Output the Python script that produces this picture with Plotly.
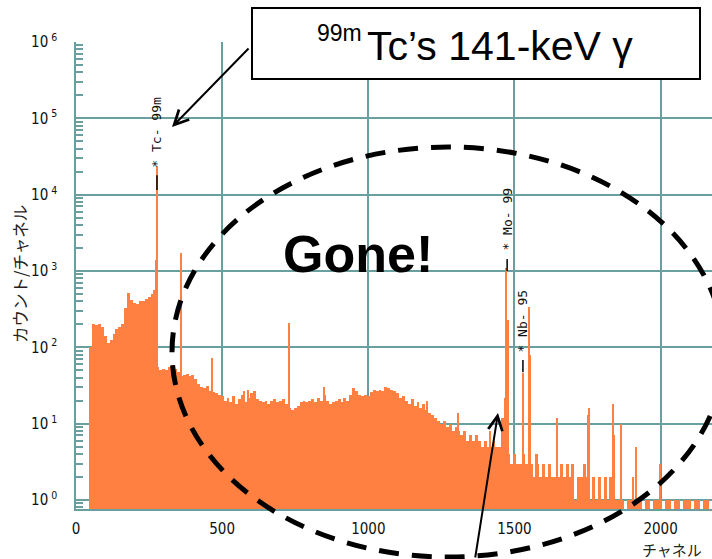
import math
import plotly.graph_objects as go

# ---------------- data ----------------
# continuum counts in 10-channel bins, first bin starts at channel 45
BIN_START = 45
BIN_WIDTH = 10
continuum_counts = [
    100, 205, 195, 200, 185, 140, 115, 125, 150, 175,
    185, 200, 330, 520, 420, 380, 375, 400, 410, 430,
    460, 500, 560, 55, 50, 52, 50, 55, 58, 52,
    48, 42, 44, 45, 42, 44, 38, 33, 30, 29,
    31, 27, 26, 25, 24, 23, 20, 22, 19, 23,
    18, 21, 24, 19, 22, 25, 27, 21, 20, 19,
    20, 18, 20, 21, 19, 20, 21, 18, 16, 15,
    16, 17, 19, 20, 19, 20, 21, 19, 22, 20,
    24, 20, 18, 19, 20, 21, 19, 22, 20, 24,
    29, 27, 24, 23, 24, 23, 26, 28, 27, 28,
    27, 30, 29, 28, 27, 25, 22, 23, 20, 18,
    21, 17, 19, 16, 18, 15, 14, 13, 12, 11,
    10, 11, 9, 10, 8, 9, 8, 7, 8, 6,
    7, 6, 7, 6, 5, 6, 5, 5, 6, 5,
    5, 12, 20, 4, 3, 4, 3, 3, 4, 3,
    5, 3, 2, 3, 2, 3, 2, 3, 2, 2,
    2, 3, 2, 3, 2, 3, 1, 2, 2, 3,
    2, 1, 2, 1, 2, 1, 2, 1, 2, 1,
    1, 1, 1, 0, 1, 1, 1, 1, 1, 0,
    1, 1, 0, 1, 1, 1, 0, 1, 1, 0,
    1, 1, 0, 1, 1, 1, 0, 1, 1, 0,
    1, 1, 0, 1,
]
continuum_channels = [BIN_START + BIN_WIDTH * (i + 0.5) for i in range(len(continuum_counts))]

# narrow peaks / single-channel spikes
spike_channels = [274, 276, 358, 464, 575, 590, 729, 848, 1200, 1307, 1416,
                  1462, 1468, 1473, 1478, 1531, 1549, 1553, 1574, 1578,
                  1645, 1752, 1756, 1837, 1840, 1864, 1905, 1916, 1998]
spike_counts = [1400, 24000, 1730, 72, 27, 28, 210, 30, 20, 14, 8,
                12, 22, 1100, 230, 46, 340, 80, 4, 4,
                12, 13, 16, 18, 7, 10, 2, 5, 3]

# identified peaks
peak_names = ["* Tc- 99m", "* Mo- 99", "* Nb- 95"]
peak_channels = [277, 1475, 1529]
peak_marker_low = [11500, 1000, 47]
peak_marker_high = [18000, 1440, 68]

x_tick_vals = [0, 500, 1000, 1500, 2000]
y_tick_vals = [1, 10, 100, 1000, 10000, 100000, 1000000]
y_tick_text = ["10<sup> 0</sup>", "10<sup> 1</sup>", "10<sup> 2</sup>", "10<sup> 3</sup>",
               "10<sup> 4</sup>", "10<sup> 5</sup>", "10<sup> 6</sup>"]

# ---------------- layout helpers ----------------
W, H = 712, 559
L, R, T, B = 76, 0, 42, 50
PW, PH = W - L - R, H - T - B


def px(p):
    return (p - L) / PW


def py(p):
    return (H - B - p) / PH


ORANGE = "#FF8040"
TEAL = "#6A9FA0"
NARROW = "Liberation Sans Narrow, DejaVu Sans Condensed, Arial Narrow, sans-serif"

fig = go.Figure()
fig.add_trace(go.Bar(
    x=continuum_channels,
    y=[c if c > 0 else None for c in continuum_counts],
    width=BIN_WIDTH,
    marker=dict(color=ORANGE, line=dict(width=0)),
    hoverinfo="skip",
))
fig.add_trace(go.Bar(
    x=spike_channels,
    y=spike_counts,
    width=4,
    marker=dict(color=ORANGE, line=dict(width=0)),
    hoverinfo="skip",
))

fig.update_layout(
    width=W, height=H,
    margin=dict(l=L, r=R, t=T, b=B, pad=0),
    template="none",
    paper_bgcolor="white",
    plot_bgcolor="white",
    showlegend=False,
    barmode="overlay",
    bargap=0,
    xaxis=dict(
        range=[0, PW / 0.2923],
        tickvals=x_tick_vals,
        showgrid=True, gridcolor=TEAL, gridwidth=1.5,
        showline=True, linecolor=TEAL, linewidth=1.5,
        zeroline=False, ticks="",
        tickfont=dict(family=NARROW, size=15, color="#111"),
        ticklabelstandoff=5,
    ),
    yaxis=dict(
        type="log",
        range=[-0.118, 6.0],
        tickvals=y_tick_vals,
        ticktext=y_tick_text,
        showgrid=True, gridcolor=TEAL, gridwidth=1.5,
        showline=True, linecolor=TEAL, linewidth=1.5,
        zeroline=False,
        ticks="inside", ticklen=7, tickcolor=TEAL, tickwidth=1.5,
        minor=dict(ticks="inside", ticklen=7, tickcolor=TEAL, tickwidth=1.5,
                   dtick="D1", showgrid=False),
        tickfont=dict(family=NARROW, size=15, color="#111"),
        ticklabelstandoff=14,
    ),
)

# peak markers and labels
for name, ch, lo, hi in zip(peak_names, peak_channels, peak_marker_low, peak_marker_high):
    fig.add_shape(type="line", xref="x", yref="y", x0=ch, x1=ch, y0=lo, y1=hi,
                  line=dict(color="black", width=1.5))
    fig.add_annotation(x=ch, y=math.log10(hi), xref="x", yref="y", text=name,
                       showarrow=False, textangle=-90, yanchor="bottom", xanchor="center",
                       yshift=6, font=dict(family="DejaVu Sans Mono", size=13, color="#111"))

# axis titles
fig.add_annotation(x=px(20), y=py(274), xref="paper", yref="paper", text="カウント/チャネル",
                   showarrow=False, textangle=-90, xanchor="center", yanchor="middle",
                   font=dict(family="Noto Sans CJK JP", size=16.5, color="#222"))
fig.add_annotation(x=px(672), y=py(549), xref="paper", yref="paper", text="チャネル",
                   showarrow=False, xanchor="center", yanchor="middle",
                   font=dict(family="Noto Sans CJK JP", size=15, color="#222"))

# dashed ellipse
fig.add_shape(type="circle", xref="paper", yref="paper",
              x0=px(172), x1=px(724), y0=py(557), y1=py(147),
              line=dict(color="black", width=5, dash="20px,13px"))

# "Gone!"
fig.add_annotation(x=px(358), y=py(254), xref="paper", yref="paper", text="<b>Gone!</b>",
                   showarrow=False, xanchor="center", yanchor="middle",
                   font=dict(family="Liberation Sans, Arial", size=52, color="black"))

# call-out box
fig.add_shape(type="rect", xref="paper", yref="paper",
              x0=px(252), x1=px(700), y0=py(79), y1=py(8),
              line=dict(color="black", width=2), fillcolor="white")
fig.add_annotation(x=px(365), y=py(46), xref="paper", yref="paper",
                   text="Tc\u2019s 141-keV \u03b3", showarrow=False,
                   xanchor="left", yanchor="middle",
                   font=dict(family="Liberation Sans, Arial", size=41, color="black"))
fig.add_annotation(x=px(364), y=py(33), xref="paper", yref="paper",
                   text="99m", showarrow=False, xanchor="right", yanchor="middle",
                   font=dict(family="Liberation Sans, Arial", size=23, color="black"))

# arrows
fig.add_annotation(x=px(172), y=py(127), xref="paper", yref="paper", text="",
                   showarrow=True, ax=78, ay=-80, arrowhead=5, arrowsize=1.4,
                   arrowwidth=2, arrowcolor="black")
fig.add_annotation(x=px(498), y=py(413), xref="paper", yref="paper", text="",
                   showarrow=True, ax=-23, ay=160, arrowhead=5, arrowsize=1.4,
                   arrowwidth=2, arrowcolor="black")

fig.write_html("out.html", config={"displayModeBar": False},
               post_script="document.body.style.margin='0';")
